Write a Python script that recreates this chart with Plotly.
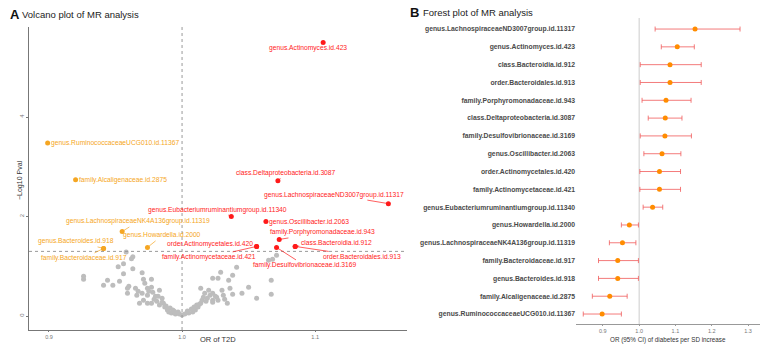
import plotly.graph_objects as go

# ---------------- Volcano data ----------------
sig_names = [
    "genus.Actinomyces.id.423", "genus.RuminococcaceaeUCG010.id.11367",
    "family.Alcaligenaceae.id.2875", "class.Deltaproteobacteria.id.3087",
    "genus.LachnospiraceaeND3007group.id.11317", "genus.Eubacteriumruminantiumgroup.id.11340",
    "genus.Oscillibacter.id.2063", "family.Porphyromonadaceae.id.943",
    "class.Bacteroidia.id.912", "order.Bacteroidales.id.913",
    "order.Actinomycetales.id.420", "family.Actinomycetaceae.id.421",
    "family.Desulfovibrionaceae.id.3169", "genus.LachnospiraceaeNK4A136group.id.11319",
    "genus.Howardella.id.2000", "genus.Bacteroides.id.918", "family.Bacteroidaceae.id.917",
]
sig_or = [1.106, 0.899, 0.920, 1.072, 1.155, 1.037, 1.063, 1.073, 1.085, 1.085,
          1.056, 1.056, 1.071, 0.955, 0.974, 0.941, 0.941]
sig_logp = [5.50, 3.48, 2.74, 2.72, 2.26, 2.00, 1.90, 1.54, 1.40, 1.40,
            1.40, 1.40, 1.38, 1.70, 1.38, 1.36, 1.36]
# label offsets (pixels) for text placement
label_dx = [-15, 67, 47, 8, -54, -14, 43, 43, 41, 67, -47, -48, 28, 16, 15, -28, -20]
label_dy = [6, 0, 0, -8, -9, -7, 0, -7, -4, 10, -2, 11, 18, -10, -12, -7, 10]

ns_or = [0.926, 0.926, 0.941, 0.944, 0.948, 0.952, 0.956, 0.958, 0.962, 0.963,
         0.956, 0.963, 0.959, 0.959, 0.965, 0.966, 0.970, 0.971, 0.972, 0.974,
         0.977, 0.970, 0.971, 0.974, 0.977, 0.978, 0.980, 0.981, 0.983, 0.985,
         0.986, 0.987, 0.989, 0.991, 0.993, 0.996, 0.998, 1.000, 0.974, 0.968,
         0.977, 0.983, 0.990, 0.992, 0.995, 0.953, 0.960, 0.967, 0.979, 0.988,
         1.002, 1.005, 1.008, 1.010, 1.012, 1.014, 1.015, 1.016, 1.014, 1.017,
         1.019, 1.020, 1.021, 1.023, 1.023, 1.026, 1.029, 1.027, 1.030, 1.031,
         1.035, 1.036, 1.038, 1.041, 1.045, 1.050, 1.056, 1.067, 1.067, 1.065,
         1.068, 1.027, 1.023, 1.034, 1.071, 1.038, 1.023, 1.004, 1.007, 1.011,
         1.018, 1.025, 1.032, 1.009, 1.013, 0.997, 0.994, 0.985, 0.982, 0.975]
ns_logp = [0.80, 0.74, 0.62, 0.72, 0.62, 0.99, 1.05, 1.29, 1.15, 1.19,
           0.85, 0.95, 0.56, 0.46, 0.56, 0.42, 0.87, 0.74, 0.66, 0.56,
           0.74, 0.46, 0.32, 0.42, 0.58, 0.48, 0.40, 0.30, 0.52, 0.36,
           0.26, 0.18, 0.12, 0.16, 0.12, 0.06, 0.04, 0.02, 0.26, 0.26,
           0.26, 0.22, 0.08, 0.06, 0.04, 0.70, 0.60, 0.50, 0.34, 0.20,
           0.04, 0.06, 0.08, 0.12, 0.18, 0.26, 0.32, 0.38, 0.56, 0.46,
           0.36, 0.52, 0.42, 0.46, 0.32, 0.38, 0.88, 0.76, 0.52, 0.42,
           0.72, 0.56, 0.44, 0.98, 0.46, 0.58, 0.36, 0.72, 0.44, 1.12,
           1.14, 0.32, 0.28, 0.26, 1.22, 0.82, 0.76, 0.10, 0.14, 0.22,
           0.30, 0.40, 0.34, 0.18, 0.24, 0.08, 0.10, 0.28, 0.40, 0.50]

# ---------------- Forest data ----------------
forest_names = [
    "genus.LachnospiraceaeND3007group.id.11317", "genus.Actinomyces.id.423",
    "class.Bacteroidia.id.912", "order.Bacteroidales.id.913",
    "family.Porphyromonadaceae.id.943", "class.Deltaproteobacteria.id.3087",
    "family.Desulfovibrionaceae.id.3169", "genus.Oscillibacter.id.2063",
    "order.Actinomycetales.id.420", "family.Actinomycetaceae.id.421",
    "genus.Eubacteriumruminantiumgroup.id.11340", "genus.Howardella.id.2000",
    "genus.LachnospiraceaeNK4A136group.id.11319", "family.Bacteroidaceae.id.917",
    "genus.Bacteroides.id.918", "family.Alcaligenaceae.id.2875",
    "genus.RuminococcaceaeUCG010.id.11367",
]
forest_or = [1.154, 1.105, 1.085, 1.085, 1.074, 1.072, 1.071, 1.063, 1.056, 1.056,
             1.037, 0.973, 0.954, 0.941, 0.941, 0.919, 0.898]
forest_lo = [1.044, 1.061, 1.003, 1.003, 1.008, 1.025, 1.003, 1.013, 1.002, 1.002,
             1.011, 0.951, 0.918, 0.888, 0.888, 0.871, 0.846]
forest_hi = [1.278, 1.152, 1.171, 1.171, 1.143, 1.118, 1.144, 1.115, 1.114, 1.114,
             1.065, 0.998, 0.991, 0.998, 0.998, 0.967, 0.951]

RED = "#FF1A1A"
ORANGE = "#F5A623"
FONT = "Liberation Sans, Arial, sans-serif"

fig = go.Figure()

# Volcano: non-significant
fig.add_trace(go.Scatter(x=ns_or, y=ns_logp, mode="markers",
                         marker=dict(color="#BDBDBD", size=5),
                         xaxis="x", yaxis="y", showlegend=False, hoverinfo="skip"))
sig_colors = [RED if o > 1 else ORANGE for o in sig_or]
fig.add_trace(go.Scatter(x=sig_or, y=sig_logp, mode="markers",
                         marker=dict(color=sig_colors, size=5),
                         xaxis="x", yaxis="y", showlegend=False, text=sig_names))

annotations = []
for n, o, p, dx, dy, c in zip(sig_names, sig_or, sig_logp, label_dx, label_dy, sig_colors):
    annotations.append(dict(x=o, y=p, xref="x", yref="y", text=n, showarrow=True,
                            ax=dx, ay=dy, arrowhead=0, arrowwidth=0.7, arrowcolor=c,
                            standoff=0, font=dict(size=6.7, color=c, family=FONT)))

# Forest
err_plus = [h - o for h, o in zip(forest_hi, forest_or)]
err_minus = [o - l for o, l in zip(forest_or, forest_lo)]
fig.add_trace(go.Scatter(x=forest_or, y=forest_names, mode="markers",
                         marker=dict(color="#FF8C00", size=5),
                         error_x=dict(type="data", symmetric=False, array=err_plus,
                                      arrayminus=err_minus, color="rgba(240,90,90,0.8)",
                                      thickness=1, width=2.5),
                         xaxis="x2", yaxis="y2", showlegend=False))

shapes = [
    dict(type="line", xref="x", yref="y domain", x0=1.0, x1=1.0, y0=0, y1=1,
         line=dict(color="#999999", width=1, dash="dot")),
    dict(type="line", xref="x domain", yref="y", x0=0, x1=1, y0=1.3, y1=1.3,
         line=dict(color="#999999", width=1, dash="dot")),
    dict(type="line", xref="x2", yref="y2 domain", x0=1.0, x1=1.0, y0=0, y1=1,
         line=dict(color="#CCCCCC", width=1), layer="below"),
]

annotations += [
    dict(xref="paper", yref="paper", x=8 / 762, y=1 - 14 / 347, xanchor="left", yanchor="middle",
         text="<b>A</b>", showarrow=False, font=dict(size=13, color="#111", family=FONT)),
    dict(xref="paper", yref="paper", x=20 / 762, y=1 - 14 / 347, xanchor="left", yanchor="middle",
         text="Volcano plot of MR analysis", showarrow=False, font=dict(size=9.5, color="#222", family=FONT)),
    dict(xref="paper", yref="paper", x=408 / 762, y=1 - 13 / 347, xanchor="left", yanchor="middle",
         text="<b>B</b>", showarrow=False, font=dict(size=13, color="#111", family=FONT)),
    dict(xref="paper", yref="paper", x=421 / 762, y=1 - 13 / 347, xanchor="left", yanchor="middle",
         text="Forest plot of MR analysis", showarrow=False, font=dict(size=9.5, color="#222", family=FONT)),
    # axis titles
    dict(xref="paper", yref="paper", x=20 / 762, y=1 - 180 / 347, xanchor="center", yanchor="middle",
         text="\u2212Log10 Pval", textangle=-90, showarrow=False,
         font=dict(size=7, color="#333", family=FONT)),
    dict(xref="paper", yref="paper", x=218 / 762, y=1 - 339 / 347, xanchor="center", yanchor="middle",
         text="OR of T2D", showarrow=False, font=dict(size=7.5, color="#333", family=FONT)),
    dict(xref="paper", yref="paper", x=668 / 762, y=1 - 339.5 / 347, xanchor="center", yanchor="middle",
         text="OR (95% CI) of diabetes per SD increase", showarrow=False,
         font=dict(size=6.3, color="#333", family=FONT)),
]

fig.update_layout(
    width=762, height=347, margin=dict(l=0, r=0, t=0, b=0),
    paper_bgcolor="white", plot_bgcolor="white",
    font=dict(family=FONT),
    shapes=shapes, annotations=annotations,
    xaxis=dict(domain=[29 / 762, 407 / 762], range=[0.885, 1.169],
               tickvals=[0.9, 1.0, 1.1], ticktext=["0.9", "1.0", "1.1"],
               showline=True, linecolor="#777777", linewidth=1, ticks="outside", ticklen=1,
               tickcolor="#777777", showgrid=False, zeroline=False,
               tickfont=dict(size=5.5, color="#777777")),
    yaxis=dict(domain=[17 / 347, 320 / 347], range=[-0.28, 5.81],
               tickvals=[0, 2, 4], showline=True, linecolor="#777777", linewidth=1,
               ticks="outside", ticklen=2, tickcolor="#777777", showgrid=False, zeroline=False,
               tickangle=-90, tickfont=dict(size=6, color="#777777")),
    xaxis2=dict(domain=[576 / 762, 760 / 762], range=[0.826, 1.333], anchor="y2",
                tickvals=[0.9, 1.0, 1.1, 1.2, 1.3], ticktext=["0.9", "1.0", "1.1", "1.2", "1.3"],
                showline=True, linecolor="#999999", linewidth=1, ticks="outside", ticklen=1,
                tickcolor="#999999", showgrid=False, zeroline=False,
                tickfont=dict(size=5.5, color="#777777")),
    yaxis2=dict(domain=[23 / 347, 329 / 347], anchor="x2", type="category",
                categoryorder="array", categoryarray=forest_names[::-1],
                range=[-0.56, 16.62], showline=False, showgrid=False, zeroline=False,
                ticks="", tickvals=forest_names,
                ticktext=["<b>" + n + "</b>" for n in forest_names],
                tickfont=dict(size=6.8, color="#4a4a4a")),
)

fig.write_html("out.html")
